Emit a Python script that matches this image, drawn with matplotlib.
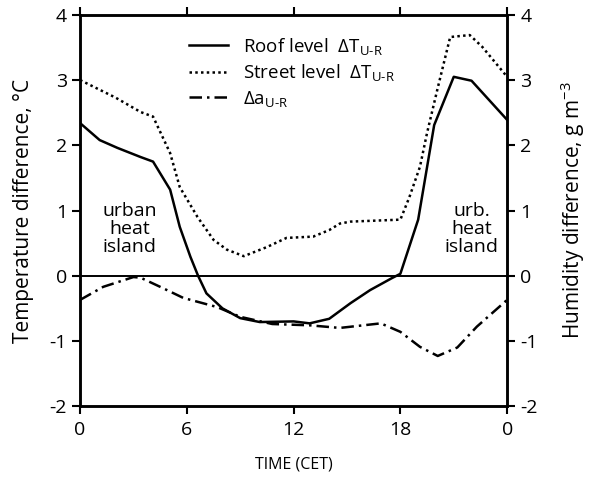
import numpy as np
import matplotlib.pyplot as plt

plt.rcParams['font.family'] = ['Open Sans', 'DejaVu Sans']
plt.rcParams['mathtext.fontset'] = 'custom'
plt.rcParams['mathtext.rm'] = 'Open Sans'
plt.rcParams['mathtext.it'] = 'Open Sans'
plt.rcParams['axes.unicode_minus'] = False

# roof level temperature difference (solid)
roof_h = [0, 1.1, 2.1, 3.4, 4.1, 5.06, 5.6, 6.2, 6.63, 7.1, 8.0, 9.0, 10.1, 12.0, 12.9, 14.0, 15.2, 16.3, 17.5, 18.0, 19.0, 19.9, 21.0, 22.0, 24]
roof_t = [2.34, 2.08, 1.96, 1.82, 1.75, 1.32, 0.75, 0.29, 0.0, -0.27, -0.5, -0.65, -0.71, -0.70, -0.73, -0.66, -0.42, -0.22, -0.04, 0.03, 0.86, 2.31, 3.05, 2.99, 2.39]

# street level temperature difference (dotted)
street_h = [0, 2.0, 3.4, 4.1, 5.06, 5.6, 6.6, 7.5, 8.25, 9.2, 10.5, 11.6, 13.1, 14.0, 14.6, 15.2, 18.0, 18.5, 19.1, 19.5, 20.1, 20.8, 21.9, 22.6, 24]
street_t = [3.0, 2.73, 2.51, 2.44, 1.88, 1.36, 0.9, 0.55, 0.4, 0.3, 0.44, 0.58, 0.6, 0.7, 0.8, 0.83, 0.86, 1.2, 1.67, 2.19, 2.88, 3.66, 3.69, 3.51, 3.05]

# humidity difference (dash-dot, right axis)
hum_h = [0, 1.3, 3.0, 3.4, 4.5, 5.8, 7.7, 9.0, 10.8, 12.9, 14.6, 16.9, 18.0, 19.1, 20.1, 21.2, 22.3, 24]
hum_a = [-0.37, -0.17, -0.02, -0.03, -0.17, -0.34, -0.48, -0.63, -0.74, -0.76, -0.8, -0.73, -0.86, -1.09, -1.23, -1.1, -0.78, -0.37]

xticks = [0, 6, 12, 18, 24]
xticklabels = ['0', '6', '12', '18', '0']
yticks = [-2, -1, 0, 1, 2, 3, 4]

fig = plt.figure(figsize=(5.89, 4.79), dpi=100)
ax = fig.add_axes([0.136, 0.152, 0.725, 0.817])
ax2 = ax.twinx()

sub = r'$_{\text{U-R}}$'
l1, = ax.plot(roof_h, roof_t, color='black', lw=1.8, label='Roof level  ΔT' + sub)
l2, = ax.plot(street_h, street_t, color='black', lw=1.8, ls=(0, (1, 1.3)), label='Street level  ΔT' + sub)
l3, = ax2.plot(hum_h, hum_a, color='black', lw=1.8, ls=(0, (5, 2, 1, 2)), label='Δa' + sub)
ax.axhline(0, color='black', lw=1.4)

ax.set_xlim(0, 24)
ax.set_ylim(-2, 4)
ax2.set_ylim(-2, 4)
ax.set_xticks(xticks)
ax.set_xticklabels(xticklabels)
ax.set_yticks(yticks)
ax2.set_yticks(yticks)

for a in (ax, ax2):
    for s in a.spines.values():
        s.set_linewidth(1.8)
    a.tick_params(labelsize=14, width=1.5, length=6, direction='out')
ax.tick_params(axis='x', top=True, pad=5)

ax.set_xlabel('TIME (CET)', fontsize=11.5, labelpad=12)
ax.set_ylabel('Temperature difference, °C', fontsize=15, labelpad=11)
ax2.set_ylabel('Humidity difference, g m$^{-3}$', fontsize=15, labelpad=15)

ax.text(2.8, 0.72, 'urban\nheat\nisland', ha='center', va='center', fontsize=14, linespacing=0.98)
ax.text(22.0, 0.72, 'urb.\nheat\nisland', ha='center', va='center', fontsize=14, linespacing=0.98)

ax.legend(handles=[l1, l2, l3], loc='upper left', bbox_to_anchor=(0.215, 0.99), frameon=False,
          fontsize=13.5, handlelength=2.1, labelspacing=0.3, handletextpad=0.8)

fig.savefig('out.png', dpi=100)
